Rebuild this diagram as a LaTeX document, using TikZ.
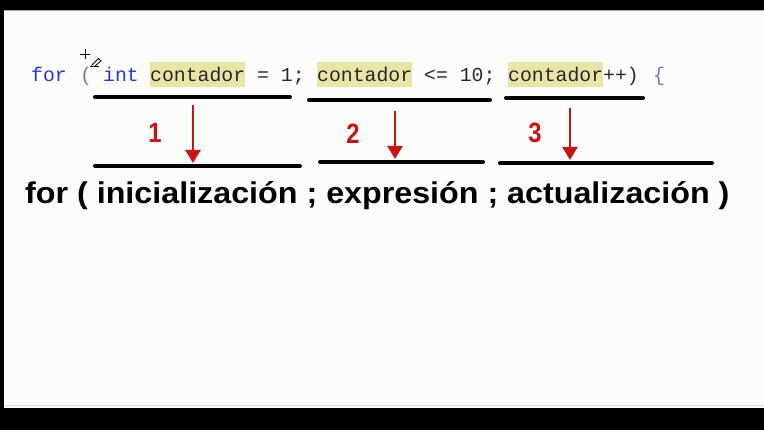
\documentclass[tikz,border=0pt]{standalone}
\usepackage{fontspec}
\usetikzlibrary{arrows.meta}
\newfontfamily\codefont{Liberation Mono}
\newfontfamily\labelfont{Liberation Sans}
\definecolor{kwblue}{RGB}{45,55,205}
\definecolor{parenblue}{RGB}{105,125,190}
\definecolor{codegray}{RGB}{40,40,40}
\definecolor{hlyellow}{RGB}{234,229,166}
\definecolor{numred}{RGB}{200,20,20}
\definecolor{paper}{RGB}{252,252,250}
\tikzset{
  code/.style={anchor=base west, inner sep=0pt, font=\codefont\fontsize{19.8}{20}\selectfont, text=codegray},
  hl/.style={code, fill=hlyellow, text height=20pt, text depth=5pt},
  bar/.style={line width=4pt, line cap=round},
  num/.style={inner sep=0pt, text=numred, font=\labelfont\bfseries\fontsize{28}{28}\selectfont},
  pointer/.style={numred, line width=2.4pt, -{Triangle[width=15pt,length=13pt]}}
}
\begin{document}
\begin{tikzpicture}[x=1pt,y=-1pt]
\useasboundingbox (0,0) rectangle (764,430);
% screen frame
\fill[paper] (0,0) rectangle (764,430);
\fill[black] (0,0) rectangle (764,10);
\fill[black] (0,0) rectangle (4,430);
\fill[black] (0,408) rectangle (764,430);
\draw[gray!70, line width=1pt] (4,10.5) -- (764,10.5);
\draw[gray!25, line width=1pt] (4,406) -- (764,406);
% mouse pointer
\draw[line width=0.9pt] (80,54) -- (90,54) (85,49) -- (85,59);
\draw[line width=0.8pt] (90,66.5) -- (99,66.5);
\draw[line width=0.8pt] (91.5,65.5) -- (98.5,58.5) -- (101,61) -- (94.5,66.5);
% code line
\node[code, text=kwblue] (for) at (31,82) {for};
\node[code, text=parenblue] (open) at (80,82) {(};
\node[code, text=kwblue] (int) at (103,82) {int};
\node[hl] (var1) at (150,82) {contador};
\node[code] (init) at (257,82) {= 1;};
\node[hl] (var2) at (317,82) {contador};
\node[code] (cond) at (424,82) {<= 10;};
\node[hl] (var3) at (508,82) {contador};
\node[code] (incr) at (603,82) {++)};
\node[code, text=parenblue] (brace) at (653,82) {\{};
% underlines of the code parts
\draw[bar] (95,97) -- (290,97);
\draw[bar] (309,100) -- (490,100);
\draw[bar] (506,98) -- (643,98);
% general form
\node[anchor=base west, inner sep=0pt, font=\labelfont\bfseries\fontsize{30}{30}\selectfont] (form) at (25,204)
  {\scalebox{1.075}[1]{for ( inicialización ; expresión ; actualización )}};
\draw[bar] (95,166) -- (300,166);
\draw[bar] (320,162) -- (483,162);
\draw[bar] (500,163) -- (712,163);
% numbered arrows
\coordinate (top1) at (193,105);
\coordinate (end1) at (193,163);
\coordinate (top2) at (395,111);
\coordinate (end2) at (395,159);
\coordinate (top3) at (570,108);
\coordinate (end3) at (570,160);
\draw[pointer] (top1) -- (end1);
\draw[pointer] (top2) -- (end2);
\draw[pointer] (top3) -- (end3);
\node[num] (n1) at (155,133) {\scalebox{0.85}[1]{1}};
\node[num] (n2) at (353,134) {\scalebox{0.85}[1]{2}};
\node[num] (n3) at (535,133) {\scalebox{0.85}[1]{3}};
\end{tikzpicture}
\end{document}
